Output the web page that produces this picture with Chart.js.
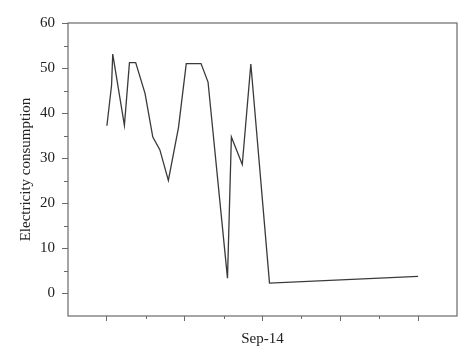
<!DOCTYPE html>
<html>
<head>
<meta charset="utf-8">
<script src="https://cdn.jsdelivr.net/npm/chart.js@4"></script>
<style>
  html, body { margin: 0; padding: 0; background: #fff; }
  #wrap { width: 474px; height: 363px; position: relative; }
</style>
</head>
<body>
<div id="wrap"><canvas id="c"></canvas></div>
<script>
// Data (x in relative day units, 0 = first record)
const xValues = [0, 0.6, 0.75, 2.25, 2.9, 3.7, 4.9, 5.9, 6.8, 7.9, 9.2, 10.2, 12.1, 13.0, 15.5, 16.0, 17.4, 18.5, 20.9, 40];
const consumption = [37.2, 46.2, 53.1, 37.3, 51.2, 51.2, 44.4, 34.7, 31.9, 25.1, 36.8, 51.0, 51.0, 46.9, 3.4, 34.7, 28.6, 50.9, 2.3, 3.8];
const xMajorTicks = [0, 10, 20, 30, 40];
const xMinorTicks = [5, 15, 25, 35];
const xTickLabels = {20: 'Sep-14'};
const yMajorTicks = [0, 10, 20, 30, 40, 50, 60];
const yMinorTicks = [5, 15, 25, 35, 45, 55];
const yTitle = 'Electricity consumption';

const points = xValues.map((x, i) => ({x: x, y: consumption[i]}));
const frameColor = '#6a6a6a';
const serif = '"Liberation Serif", "DejaVu Serif", serif';

const framePlugin = {
  id: 'frame',
  afterDraw(chart) {
    const {ctx, chartArea: a, scales} = chart;
    ctx.save();
    ctx.strokeStyle = frameColor;
    ctx.lineWidth = 1.2;
    ctx.strokeRect(a.left, a.top, a.right - a.left, a.bottom - a.top);
    ctx.lineWidth = 1;
    ctx.beginPath();
    yMinorTicks.forEach(v => {
      const y = Math.round(scales.y.getPixelForValue(v)) + 0.5;
      ctx.moveTo(a.left - 4, y); ctx.lineTo(a.left, y);
    });
    xMinorTicks.forEach(v => {
      const x = Math.round(scales.x.getPixelForValue(v)) + 0.5;
      ctx.moveTo(x, a.bottom); ctx.lineTo(x, a.bottom + 3);
    });
    ctx.stroke();
    ctx.restore();
  }
};

new Chart(document.getElementById('c'), {
  type: 'line',
  data: {
    datasets: [{
      data: points,
      borderColor: '#3a3a3a',
      borderWidth: 1.3,
      pointRadius: 0,
      tension: 0,
      fill: false
    }]
  },
  options: {
    responsive: true,
    maintainAspectRatio: false,
    animation: false,
    layout: { padding: { top: 23, right: 17, left: 0, bottom: 0 } },
    plugins: { legend: { display: false }, tooltip: { enabled: false } },
    scales: {
      x: {
        type: 'linear',
        min: -5,
        max: 45,
        afterBuildTicks(scale) { scale.ticks = xMajorTicks.map(v => ({value: v})); },
        afterFit(scale) { scale.height = 47; },
        border: { display: false },
        grid: { drawOnChartArea: false, drawTicks: true, tickLength: 5, tickColor: frameColor, color: frameColor, lineWidth: 1 },
        ticks: {
          autoSkip: false,
          maxRotation: 0,
          padding: 9,
          color: '#222',
          font: { family: serif, size: 15 },
          callback: (v) => xTickLabels[v] || ''
        }
      },
      y: {
        type: 'linear',
        min: -5,
        max: 60,
        afterBuildTicks(scale) { scale.ticks = yMajorTicks.map(v => ({value: v})); },
        afterFit(scale) { scale.width = 68; },
        border: { display: false },
        grid: { drawOnChartArea: false, drawTicks: true, tickLength: 6, tickColor: frameColor, color: frameColor, lineWidth: 1 },
        ticks: {
          padding: 7,
          color: '#222',
          font: { family: serif, size: 15 },
          callback: (v) => String(v)
        },
        title: {
          display: true,
          text: yTitle,
          color: '#222',
          font: { family: serif, size: 15 },
          padding: { top: 17, bottom: 0 }
        }
      }
    }
  },
  plugins: [framePlugin]
});
</script>
</body>
</html>
